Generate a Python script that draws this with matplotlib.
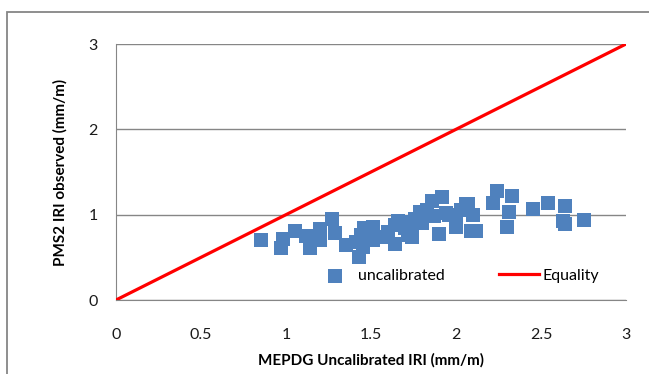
import matplotlib.pyplot as plt
from matplotlib.patches import Rectangle

# MEPDG uncalibrated IRI (x) vs PMS2 observed IRI (y), mm/m
mepdg_iri = [0.85, 0.97, 0.98, 1.05, 1.12, 1.14, 1.20, 1.20, 1.27, 1.29,
             1.35, 1.41, 1.43, 1.44, 1.45, 1.46, 1.51, 1.51, 1.57, 1.60,
             1.64, 1.64, 1.66, 1.70, 1.72, 1.72, 1.74, 1.76, 1.79, 1.80,
             1.83, 1.86, 1.87, 1.90, 1.92, 1.94, 1.96, 2.00, 2.00, 2.03,
             2.06, 2.07, 2.09, 2.10, 2.12, 2.22, 2.24, 2.30, 2.31, 2.33,
             2.45, 2.54, 2.63, 2.64, 2.64, 2.75]
pms2_iri = [0.70, 0.61, 0.72, 0.81, 0.75, 0.61, 0.83, 0.70, 0.95, 0.79,
            0.64, 0.68, 0.50, 0.76, 0.62, 0.84, 0.85, 0.70, 0.74, 0.80,
            0.88, 0.66, 0.92, 0.84, 0.91, 0.76, 0.74, 0.95, 1.03, 0.90,
            1.05, 1.16, 0.98, 0.77, 1.21, 1.02, 1.00, 0.97, 0.85, 1.05,
            1.12, 1.12, 0.81, 1.00, 0.81, 1.14, 1.28, 0.86, 1.03, 1.22,
            1.07, 1.14, 0.93, 0.89, 1.10, 0.94]
equality = [0, 3]

plt.rcParams['font.family'] = ['Lato', 'DejaVu Sans']

fig = plt.figure(figsize=(6.49, 3.74), dpi=100)
ax = fig.add_axes([116 / 649, 74 / 374, 510 / 649, 256 / 374])

# chart frame, only left/top visible in the crop
fig.patches.append(Rectangle((7 / 649, -0.1), 1.2, 1.068,
                             transform=fig.transFigure, fill=False,
                             edgecolor='#868686', linewidth=1.3))

ax.scatter(mepdg_iri, pms2_iri, marker='s', s=90, color='#4F81BD',
           linewidths=0, label='uncalibrated', zorder=3)
ax.plot(equality, equality, color='#FF0000', linewidth=2.3,
        label='Equality', zorder=4)

ax.set_xlim(0, 3)
ax.set_ylim(0, 3)
ax.set_xticks([0, 0.5, 1, 1.5, 2, 2.5, 3])
ax.set_xticklabels(['0', '0.5', '1', '1.5', '2', '2.5', '3'])
ax.set_yticks([0, 1, 2, 3])
ax.yaxis.grid(True, color='#868686', linewidth=1)
ax.set_axisbelow(True)
for side in ['top', 'right']:
    ax.spines[side].set_visible(False)
for side in ['left', 'bottom']:
    ax.spines[side].set_color('#868686')
ax.tick_params(length=0, labelsize=11.5, colors='#1a1a1a')
ax.tick_params(axis='x', pad=20)
ax.tick_params(axis='y', pad=13)

ax.set_xlabel('MEPDG Uncalibrated IRI (mm/m)', fontsize=11, fontweight='bold',
              labelpad=8)
ax.set_ylabel('PMS2 IRI observed (mm/m)', fontsize=11, fontweight='bold',
              labelpad=15)

ax.legend(loc='lower right', bbox_to_anchor=(0.975, 0.01), ncol=2,
          frameon=False, fontsize=11.5, handlelength=2.5, columnspacing=3.4,
          handletextpad=0.2)

fig.savefig('out.png', dpi=100)
